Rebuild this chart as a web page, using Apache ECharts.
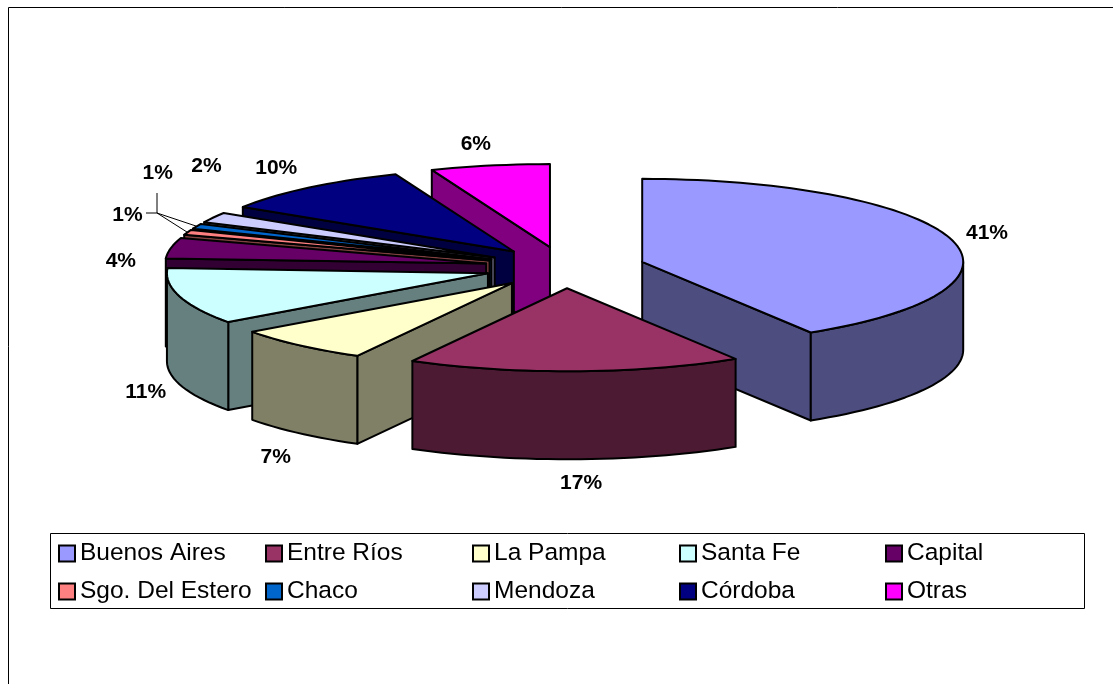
<!DOCTYPE html>
<html>
<head>
<meta charset="utf-8">
<style>html,body{margin:0;padding:0;background:#fff}#c{width:1113px;height:684px}</style>
<script src="https://cdn.jsdelivr.net/npm/echarts@6/dist/echarts.min.js"></script>
</head>
<body>
<div id="c"></div>
<script>
// ---- data ----
const categories = ['Buenos Aires','Entre Ríos','La Pampa','Santa Fe','Capital','Sgo. Del Estero','Chaco','Mendoza','Córdoba','Otras'];
const shares = [41.2, 16.8, 7, 11, 4, 1, 1, 2, 10, 6];
// ---- styles / layout ----
const topColors  = ['#9999FF','#993366','#FFFFCC','#CCFFFF','#660066','#FF8080','#0066CC','#CCCCFF','#000080','#FF00FF'];
const wallColors = ['#4D4D80','#4D1A33','#808066','#668080','#330033','#804040','#003366','#666680','#000040','#800080'];
const drawOrder = [9,8,7,6,5,4,3,2,0,1];
const labelOffsets = [[36,-6],[6,24],[-24,24],[-34,8],[-50,13],[-60,-17],[-39,-53],[-7,-51],[-33,-19],[-14,-21]];
const leaderStarts = {5:[[146,213],[157,213]], 6:[[157,193],[157,213]]};
const pie = {cx:565, cy:267.5, rx:321, ry:83, depth:88, explode:0.25};
const legendColumns = [[0,5],[1,6],[2,7],[3,8],[4,9]];
const legendLefts = [58,265,472,679,885];

const total = shares.reduce((a,b)=>a+b,0);
const starts = [];
shares.reduce((a,v,i)=>{starts[i]=a;return a+v;},0);
const rad = d=>d*Math.PI/180;

function makeRender(i){
  return function(params, api){
    const value = api.value(0), startVal = api.value(1);
    const a0 = startVal/total*360, a1 = (startVal+value)/total*360, mid=(a0+a1)/2;
    const ax = pie.cx + Math.sin(rad(mid))*pie.rx*pie.explode;
    const ay = pie.cy - Math.cos(rad(mid))*pie.ry*pie.explode;
    const rim = (a,dz)=>[ax+Math.sin(rad(a))*pie.rx, ay-Math.cos(rad(a))*pie.ry+(dz||0)];
    const arc = (from,to,dz)=>{const n=Math.max(2,Math.ceil(Math.abs(to-from)/2));const p=[];
      for(let k=0;k<=n;k++)p.push(rim(from+(to-from)*k/n,dz));return p;};
    const children = [];
    const line = {stroke:'#000',lineWidth:2,lineJoin:'round'};
    const wall = pts=>children.push({type:'polygon',shape:{points:pts},style:Object.assign({fill:wallColors[i]},line)});
    // radial walls facing the viewer
    const radial = a=>{const r=rim(a),rb=rim(a,pie.depth);wall([[ax,ay],r,rb,[ax,ay+pie.depth]]);};
    if(Math.sin(rad(a0))<-1e-6) radial(a0);
    if(Math.sin(rad(a1))>1e-6) radial(a1);
    // outer rim wall on the front half
    const f0=Math.max(a0,90), f1=Math.min(a1,270);
    if(f1>f0) wall(arc(f0,f1,0).concat(arc(f1,f0,pie.depth)));
    // top face
    children.push({type:'polygon',shape:{points:[[ax,ay]].concat(arc(a0,a1,0))},style:Object.assign({fill:topColors[i]},line)});
    // value label
    const front = mid>90 && mid<270 ? pie.depth : 0;
    const rx2=pie.rx*(1+pie.explode), ry2=pie.ry*(1+pie.explode);
    const mx=pie.cx+Math.sin(rad(mid))*rx2, my=pie.cy-Math.cos(rad(mid))*ry2+front;
    if(leaderStarts[i]){
      children.push({type:'polyline',shape:{points:leaderStarts[i].concat([[mx,my]])},style:{fill:null,stroke:'#000',lineWidth:1}});
    }
    children.push({type:'text',style:{text:Math.round(value)+'%',x:mx+labelOffsets[i][0],y:my+labelOffsets[i][1],
      font:'bold 21px "Liberation Sans", Arial, sans-serif',fill:'#000',textAlign:'center',textVerticalAlign:'middle'}});
    return {type:'group',children};
  };
}

const series = drawOrder.map((i,order)=>({
  type:'custom', name:categories[i], coordinateSystem:'none', z:2+order, silent:true,
  itemStyle:{color:topColors[i]},
  data:[[shares[i],starts[i]]],
  renderItem:makeRender(i)
}));

const legends = legendColumns.map((col,c)=>({
  orient:'vertical', left:legendLefts[c], top:540, itemWidth:16, itemHeight:16, itemGap:11, selectedMode:false,
  icon:'rect', padding:0,
  itemStyle:{borderColor:'#000',borderWidth:2},
  textStyle:{color:'#000',fontFamily:'"Liberation Sans", Arial, sans-serif',fontSize:24.5,lineHeight:27},
  data:col.map(k=>categories[k])
}));

const chart = echarts.init(document.getElementById('c'),null,{renderer:'canvas'});
chart.setOption({
  animation:false, backgroundColor:'#fff',
  graphic:[
    {type:'rect',z:0,silent:true,shape:{x:8.5,y:7.5,width:1300,height:900},style:{fill:'#fff',stroke:'#000',lineWidth:1}},
    {type:'rect',z:0,silent:true,shape:{x:50.5,y:533.5,width:1034,height:75},style:{fill:'#fff',stroke:'#000',lineWidth:1}}
  ],
  legend:legends,
  series
});
</script>
</body>
</html>
